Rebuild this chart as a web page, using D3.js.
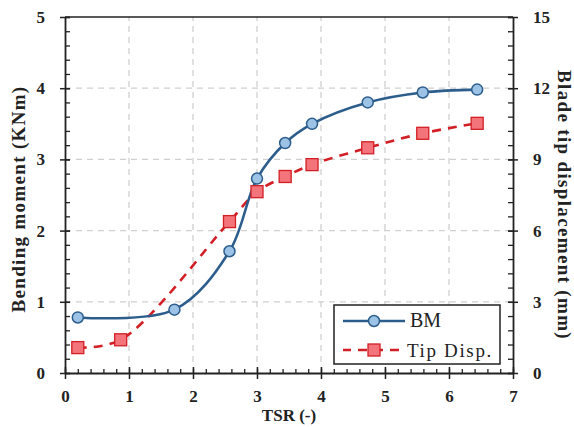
<!DOCTYPE html>
<html>
<head>
<meta charset="utf-8">
<script src="https://cdn.jsdelivr.net/npm/d3@7"></script>
<style>
  html, body { margin: 0; padding: 0; background: #fff; }
  svg { display: block; }
  text { font-family: "Liberation Serif", "Times New Roman", serif; }
</style>
</head>
<body>
<svg id="chart" width="574" height="427"></svg>
<script>
// Tip speed ratio at each measurement
const tsr = [0.2, 1.71, 2.57, 3.0, 3.44, 3.86, 4.73, 5.59, 6.44];
const tsrDisp = [0.2, 0.87, 2.57, 3.0, 3.44, 3.86, 4.73, 5.59, 6.44];
// Bending moment (KNm)
const bendingMoment = [0.78, 0.89, 1.71, 2.73, 3.23, 3.50, 3.80, 3.94, 3.98];
// Blade tip displacement (mm)
const tipDisp = [1.07, 1.40, 6.38, 7.64, 8.28, 8.78, 9.49, 10.10, 10.52];

const xTicks = [0, 1, 2, 3, 4, 5, 6, 7];
const yLeftTicks = [0, 1, 2, 3, 4, 5];
const yRightTicks = [0, 3, 6, 9, 12, 15];
const seriesNames = ["BM", "Tip Disp."];

const W = 574, H = 427;
const m = { left: 65, right: 61, top: 17, bottom: 54 };
const svg = d3.select("#chart");

const x = d3.scaleLinear().domain([0, 7]).range([m.left, W - m.right]);
const yL = d3.scaleLinear().domain([0, 5]).range([H - m.bottom, m.top]);
const yR = d3.scaleLinear().domain([0, 15]).range([H - m.bottom, m.top]);

const blue = "#2c5d8c", blueFill = "#9cc3e5";
const red = "#d21f26", redFill = "#f3747a";
const axisCol = "#222";

// widen a label to the given span with a little letter spacing
function spread(sel, width) {
  const n = sel.text().length;
  const w = sel.node().getComputedTextLength();
  if (w < width) sel.attr("letter-spacing", ((width - w) / n).toFixed(2));
  return sel;
}

// dashed grid
const grid = svg.append("g").attr("stroke", "#d0d0d0").attr("stroke-width", 1.3)
  .attr("stroke-dasharray", "6,5");
xTicks.slice(1, -1).forEach(t => grid.append("line")
  .attr("x1", x(t)).attr("x2", x(t)).attr("y1", yL(0)).attr("y2", yL(5)));
yLeftTicks.slice(1, -1).forEach(t => grid.append("line")
  .attr("x1", x(0)).attr("x2", x(7)).attr("y1", yL(t)).attr("y2", yL(t)));

// top frame line
svg.append("line").attr("x1", x(0)).attr("x2", x(7)).attr("y1", yL(5)).attr("y2", yL(5))
  .attr("stroke", axisCol).attr("stroke-width", 1.5);

function styleAxis(g) {
  g.select(".domain").attr("stroke", axisCol).attr("stroke-width", 1.8);
  g.selectAll(".tick line").attr("stroke", axisCol).attr("stroke-width", 1.5);
  g.selectAll(".tick text").attr("fill", "#222").attr("font-weight", "bold")
    .attr("font-size", 17);
}

// minor ticks point into the plot, major ticks cross the axis
const minorX = d3.range(0, 7.001, 0.2);
svg.append("g").attr("transform", `translate(0,${yL(0)})`)
  .call(d3.axisBottom(x).tickValues(minorX).tickSize(-4).tickFormat(""))
  .call(g => { g.select(".domain").remove(); g.selectAll("line").attr("stroke", axisCol).attr("stroke-width", 1.3); });
svg.append("g").attr("transform", `translate(0,${yL(0)})`)
  .call(d3.axisBottom(x).tickValues(xTicks).tickSizeInner(6).tickSizeOuter(0).tickPadding(11).tickFormat(d3.format("d")))
  .call(styleAxis)
  .call(g => g.selectAll(".tick line").attr("y1", -6));

const minorY = d3.range(0, 5.001, 0.2);
svg.append("g").attr("transform", `translate(${x(0)},0)`)
  .call(d3.axisLeft(yL).tickValues(minorY).tickSize(-5).tickFormat(""))
  .call(g => { g.select(".domain").remove(); g.selectAll("line").attr("stroke", axisCol).attr("stroke-width", 1.3); });
svg.append("g").attr("transform", `translate(${x(0)},0)`)
  .call(d3.axisLeft(yL).tickValues(yLeftTicks).tickSizeInner(5).tickSizeOuter(0).tickPadding(15).tickFormat(d3.format("d")))
  .call(styleAxis)
  .call(g => g.selectAll(".tick line").attr("x2", 5).attr("x1", -5));

const minorR = d3.range(0, 15.001, 0.6);
svg.append("g").attr("transform", `translate(${x(7)},0)`)
  .call(d3.axisRight(yR).tickValues(minorR).tickSize(-5).tickFormat(""))
  .call(g => { g.select(".domain").remove(); g.selectAll("line").attr("stroke", axisCol).attr("stroke-width", 1.3); });
svg.append("g").attr("transform", `translate(${x(7)},0)`)
  .call(d3.axisRight(yR).tickValues(yRightTicks).tickSizeInner(5).tickSizeOuter(0).tickPadding(15).tickFormat(d3.format("d")))
  .call(styleAxis)
  .call(g => g.selectAll(".tick line").attr("x1", -5).attr("x2", 5));

// axis titles
svg.append("text").attr("x", x(3.5)).attr("y", 421).attr("text-anchor", "middle")
  .attr("font-weight", "bold").attr("font-size", 17).attr("fill", "#222").text("TSR (-)")
  .call(s => spread(s, 54));
svg.append("text").attr("transform", `translate(25,${(yL(0) + yL(5)) / 2 + 4}) rotate(-90)`)
  .attr("text-anchor", "middle").attr("font-weight", "bold").attr("font-size", 19)
  .attr("fill", "#222").text("Bending moment (KNm)")
  .call(s => spread(s, 227));
svg.append("text").attr("transform", `translate(558,${(yL(0) + yL(5)) / 2 + 10}) rotate(90)`)
  .attr("text-anchor", "middle").attr("font-weight", "bold").attr("font-size", 19)
  .attr("fill", "#222").text("Blade tip displacement (mm)")
  .call(s => spread(s, 270));

// series
const bmData = tsr.map((t, i) => [t, bendingMoment[i]]);
const tdData = tsrDisp.map((t, i) => [t, tipDisp[i]]);

const lineBM = d3.line().x(d => x(d[0])).y(d => yL(d[1])).curve(d3.curveCatmullRom.alpha(0.5));
const lineTD = d3.line().x(d => x(d[0])).y(d => yR(d[1])).curve(d3.curveCatmullRom.alpha(0.5));

svg.append("path").datum(tdData).attr("d", lineTD).attr("fill", "none")
  .attr("stroke", red).attr("stroke-width", 2.6).attr("stroke-dasharray", "9,7");
svg.append("path").datum(bmData).attr("d", lineBM).attr("fill", "none")
  .attr("stroke", blue).attr("stroke-width", 2.6);

svg.append("g").selectAll("rect").data(tdData).join("rect")
  .attr("x", d => x(d[0]) - 6).attr("y", d => yR(d[1]) - 6).attr("width", 12).attr("height", 12)
  .attr("fill", redFill).attr("stroke", red).attr("stroke-width", 1.3);
svg.append("g").selectAll("circle").data(bmData).join("circle")
  .attr("cx", d => x(d[0])).attr("cy", d => yL(d[1])).attr("r", 5.5)
  .attr("fill", blueFill).attr("stroke", blue).attr("stroke-width", 1.5);

// legend
const lg = svg.append("g");
lg.append("rect").attr("x", 334).attr("y", 305).attr("width", 166).attr("height", 59)
  .attr("fill", "#fff").attr("stroke", axisCol).attr("stroke-width", 1.5);
lg.append("line").attr("x1", 343).attr("x2", 405).attr("y1", 321).attr("y2", 321)
  .attr("stroke", blue).attr("stroke-width", 2.6);
lg.append("circle").attr("cx", 374).attr("cy", 321).attr("r", 5.5)
  .attr("fill", blueFill).attr("stroke", blue).attr("stroke-width", 1.5);
lg.append("line").attr("x1", 343).attr("x2", 405).attr("y1", 350).attr("y2", 350)
  .attr("stroke", red).attr("stroke-width", 2.6).attr("stroke-dasharray", "9,7")
  .attr("stroke-dashoffset", 1);
lg.append("rect").attr("x", 368).attr("y", 344).attr("width", 12).attr("height", 12)
  .attr("fill", redFill).attr("stroke", red).attr("stroke-width", 1.3);
lg.append("text").attr("x", 410).attr("y", 327).attr("font-size", 20).attr("fill", "#222")
  .text(seriesNames[0]);
lg.append("text").attr("x", 407).attr("y", 357).attr("font-size", 19).attr("fill", "#222")
  .text(seriesNames[1]).call(s => spread(s, 86));
</script>
</body>
</html>
